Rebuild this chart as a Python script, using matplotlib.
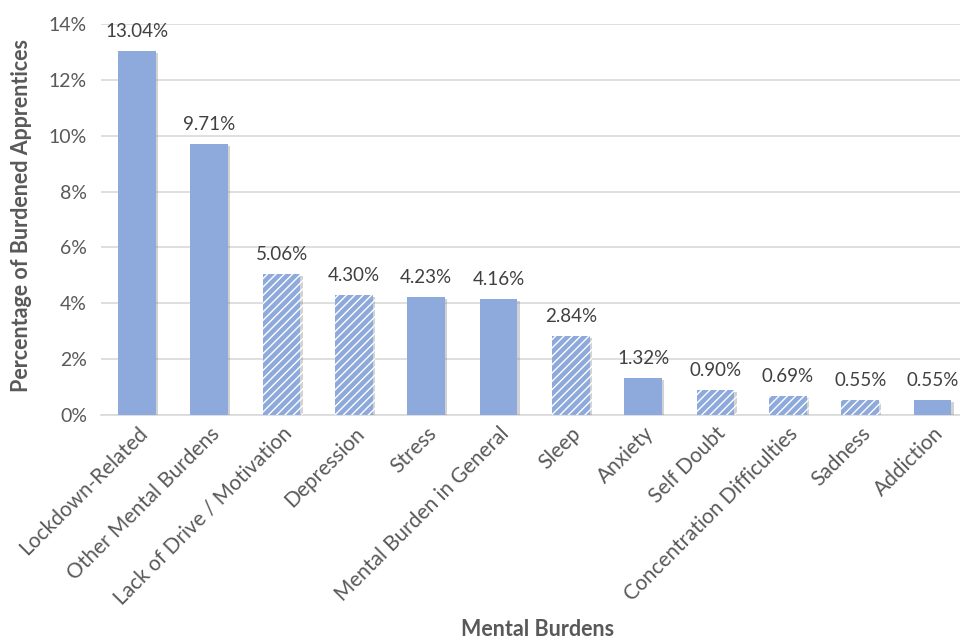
import matplotlib.pyplot as plt
import matplotlib.patheffects as pe
import numpy as np

categories = ["Lockdown-Related", "Other Mental Burdens", "Lack of Drive / Motivation",
              "Depression", "Stress", "Mental Burden in General", "Sleep", "Anxiety",
              "Self Doubt", "Concentration Difficulties", "Sadness", "Addiction"]
values = [13.04, 9.71, 5.06, 4.30, 4.23, 4.16, 2.84, 1.32, 0.90, 0.69, 0.55, 0.55]
hatched = [False, False, True, True, False, False, True, False, True, True, True, False]
yticks = [0, 2, 4, 6, 8, 10, 12, 14]

plt.rcParams["font.family"] = ["Lato", "DejaVu Sans"]
plt.rcParams["hatch.linewidth"] = 1.0

blue = "#8EA9DB"
grey = "#595959"

fig = plt.figure(figsize=(9.6, 6.38), dpi=100)
ax = fig.add_axes([100.8 / 960, 223 / 638, 868 / 960, 391 / 638])

x = np.arange(len(categories))
shadow = [pe.SimplePatchShadow(offset=(1.5, -1.5), shadow_rgbFace="#808080", alpha=0.35), pe.Normal()]
for i, v in enumerate(values):
    if hatched[i]:
        b = ax.bar(x[i], v, width=0.52, color=blue, edgecolor="white", linewidth=0,
                   hatch="////", zorder=3)
    else:
        b = ax.bar(x[i], v, width=0.52, color=blue, linewidth=0, zorder=3)
    b[0].set_path_effects(shadow)
    ax.annotate(f"{v:.2f}%", (x[i], v), xytext=(0, 8), textcoords="offset points",
                ha="center", va="bottom", fontsize=13.5, color="#404040")

ax.set_xlim(-0.5, len(categories) - 0.5)
ax.set_ylim(0, 14)
ax.set_yticks(yticks)
ax.set_yticklabels([f"{t}%" for t in yticks], fontsize=14, color=grey)
ax.set_xticks(x)
ax.set_xticklabels(categories, rotation=45, ha="right", rotation_mode="anchor",
                   fontsize=15, color=grey)
ax.tick_params(axis="y", length=0, pad=10)
ax.tick_params(axis="x", length=0, pad=6)

ax.grid(axis="y", color="#D9D9D9", linewidth=1.2, zorder=0)
for s in ["top", "right", "left"]:
    ax.spines[s].set_visible(False)
ax.spines["bottom"].set_color("#D9D9D9")
ax.spines["bottom"].set_linewidth(1.2)

fig.text(538 / 960, 1 - 629 / 638, "Mental Burdens", ha="center", va="center",
         fontsize=15.5, fontweight="bold", color=grey)
fig.text(22 / 960, 1 - 216 / 638, "Percentage of Burdened Apprentices", ha="center",
         va="center", rotation=90, fontsize=15.5, fontweight="bold", color=grey)

fig.savefig("out.png", dpi=100)
